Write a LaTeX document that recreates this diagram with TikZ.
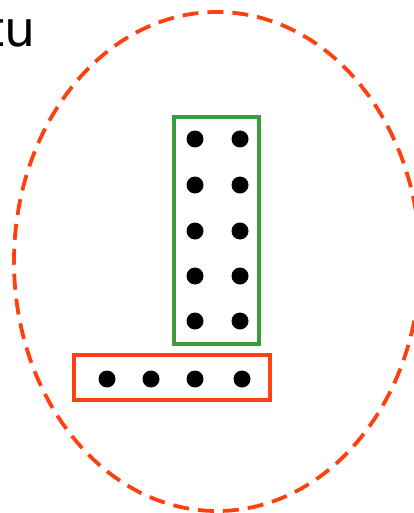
\documentclass[tikz,border=0pt]{standalone}
\usepackage{fontspec}
\setmainfont{DejaVu Sans}
\usepackage{xcolor}
\usepackage{tikz}
\usetikzlibrary{shapes.geometric,positioning}
\definecolor{CellOrange}{HTML}{FF4010}
\definecolor{GridGreen}{HTML}{3C9C3C}

\begin{document}
\begin{tikzpicture}[
  x=1pt, y=-1pt,
  dot/.style={circle, fill=black, minimum size=17pt, inner sep=0pt},
  greenbox/.style={draw=GridGreen, line width=3.4pt, minimum width=85pt, minimum height=227pt, inner sep=0pt},
  orangebox/.style={draw=CellOrange, line width=3.4pt, minimum width=196pt, minimum height=45pt, inner sep=0pt},
  cellring/.style={ellipse, draw=CellOrange, line width=3.8pt, dash pattern=on 16pt off 9pt,
                   minimum width=406pt, minimum height=499pt, inner sep=0pt}
]
\useasboundingbox (0,0) rectangle (413,513);
\node[cellring] (cell) at (217,261.5) {};
\node[anchor=base east, inner sep=0pt, font=\fontsize{49}{54}\selectfont] (label) at (36,47) {tu};
\node[greenbox] (colbox) at (216.5,230.5) {};
\node[orangebox] (rowbox) at (172,377.5) {};
% two columns of five dots
\foreach \y [count=\r] in {139,185,231,276,321} {
  \node[dot] (l\r) at (195,\y) {};
  \node[dot] (r\r) at (240,\y) {};
}
% one row of four dots
\foreach \x [count=\c] in {107,151,195,242}
  \node[dot] (b\c) at (\x,379) {};
\end{tikzpicture}
\end{document}
